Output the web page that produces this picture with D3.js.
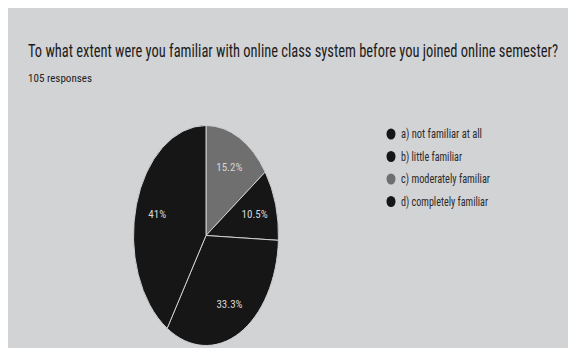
<!DOCTYPE html>
<html>
<head>
<meta charset="utf-8">
<script src="https://cdn.jsdelivr.net/npm/d3@7"></script>
<style>
  html, body { margin: 0; padding: 0; background: #fff; }
  svg { display: block; }
  text { font-family: "Liberation Sans Narrow", "Roboto Condensed", "Roboto", sans-serif; }
</style>
</head>
<body>
<div id="chart"></div>
<script>
// data
const categories = ['a) not familiar at all', 'b) little familiar', 'c) moderately familiar', 'd) completely familiar'];
const percents = [33.3, 41, 15.2, 10.5];
const sliceOrder = [2, 3, 0, 1]; // clockwise from 12 o'clock
const percentLabels = ['33.3%', '41%', '15.2%', '10.5%'];
const colors = ['#161616', '#161616', '#6f6f6f', '#161616'];

const svg_width = 568, svg_height = 348;

const svg = d3.select('#chart').append('svg')
    .attr('width', svg_width).attr('height', svg_height);

// 背景 (白色邊框 + 灰色卡片)
svg.append('rect').attr('width', svg_width).attr('height', svg_height).attr('fill', '#fff');
svg.append('rect').attr('x', 8).attr('y', 8)
    .attr('width', svg_width - 8).attr('height', svg_height - 8)
    .attr('fill', '#d2d3d5');

// header: 窄字體效果 -> 小字級再垂直拉高
svg.append('g')
    .attr('transform', 'translate(28,57) scale(1,1.32)')
    .append('text')
    .attr('x', 0).attr('y', 0)
    .attr('textLength', 530).attr('lengthAdjust', 'spacingAndGlyphs')
    .style('font-size', '14px').style('fill', '#1c1c1c')
    .text('To what extent were you familiar with online class system before you joined online semester?');
svg.append('text')
    .attr('x', 28).attr('y', 82)
    .attr('textLength', 64).attr('lengthAdjust', 'spacingAndGlyphs')
    .style('font-size', '11px').style('fill', '#222')
    .text('105 responses');

// pie (拉成橢圓)
const cx = 206, cy = 235.5, rx = 72.5, ry = 110;
const pie = d3.pie().sort(null).value(i => percents[i]);
const arcs = pie(sliceOrder);
const arc = d3.arc().innerRadius(0).outerRadius(rx);

const pieG = svg.append('g')
    .attr('transform', `translate(${cx},${cy}) scale(1,${ry / rx})`);
pieG.selectAll('path')
    .data(arcs).enter()
    .append('path')
    .attr('d', arc)
    .attr('fill', d => colors[d.data])
    .attr('stroke', '#cfd0d2')
    .attr('stroke-width', 1)
    .attr('vector-effect', 'non-scaling-stroke');

// 百分比標籤
const labelArc = d3.arc().innerRadius(rx * 0.7).outerRadius(rx * 0.7);
svg.selectAll('.pct')
    .data(arcs).enter()
    .append('text')
    .attr('class', 'pct')
    .attr('x', d => cx + labelArc.centroid(d)[0])
    .attr('y', d => cy + labelArc.centroid(d)[1] * ry / rx + 4)
    .attr('text-anchor', 'middle')
    .style('font-size', '11px').style('fill', '#d6d6d6')
    .text(d => percentLabels[d.data]);

// legend
const legendY = d3.scalePoint().domain(d3.range(categories.length)).range([134, 201.5]);
const legendWidths = [81, 61, 89, 87];
const legend = svg.selectAll('.legend')
    .data(d3.range(categories.length)).enter()
    .append('g')
    .attr('class', 'legend')
    .attr('transform', i => `translate(391,${legendY(i)})`);
legend.append('ellipse')
    .attr('rx', 4.5).attr('ry', 5.5)
    .attr('fill', i => colors[i]);
legend.append('text')
    .attr('x', 10).attr('y', 4)
    .attr('textLength', i => legendWidths[i]).attr('lengthAdjust', 'spacingAndGlyphs')
    .style('font-size', '12px').style('fill', '#2a2a2a')
    .text(i => categories[i]);
</script>
</body>
</html>
